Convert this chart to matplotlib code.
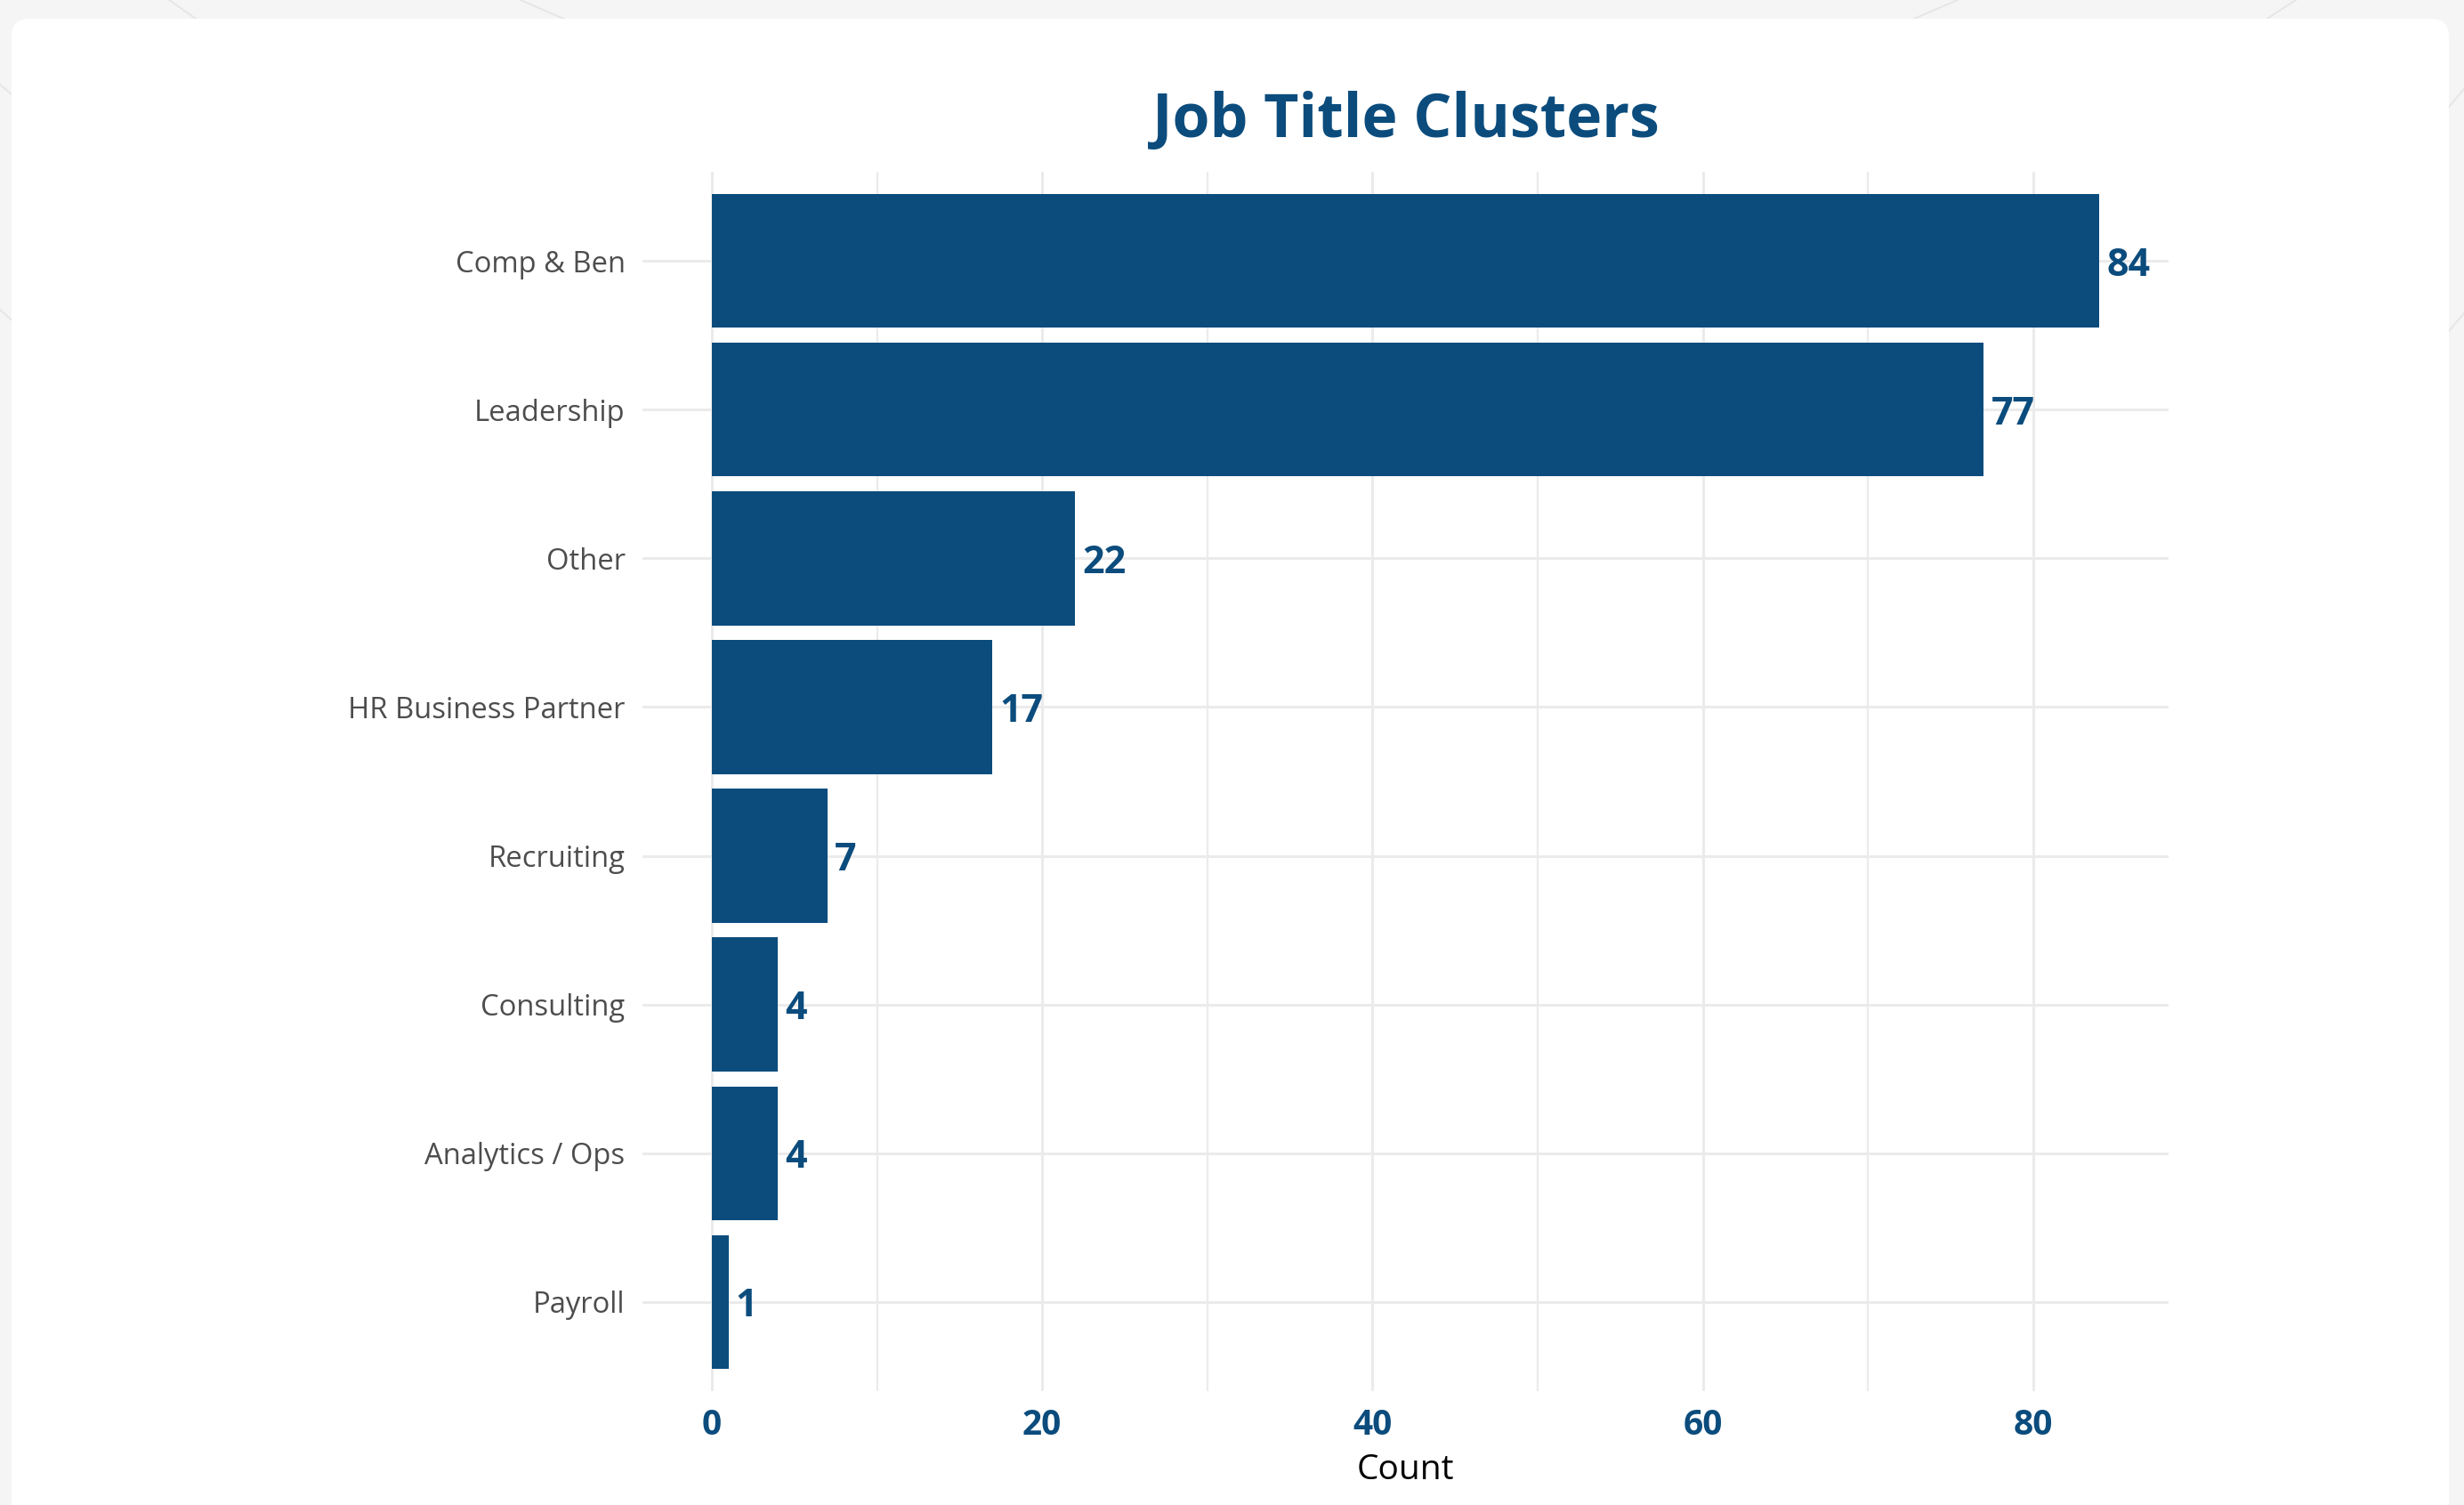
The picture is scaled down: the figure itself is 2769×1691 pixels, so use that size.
import numpy as np
import matplotlib
matplotlib.use("Agg")
import matplotlib.pyplot as plt
from matplotlib.patches import FancyBboxPatch
from matplotlib.lines import Line2D

plt.rcParams['font.family'] = ['Open Sans', 'DejaVu Sans']

# Data
clusters = ["Comp & Ben", "Leadership", "Other", "HR Business Partner",
            "Recruiting", "Consulting", "Analytics / Ops", "Payroll"]
counts = [84, 77, 22, 17, 7, 4, 4, 1]
major_ticks = [0, 20, 40, 60, 80]
minor_ticks = [10, 30, 50, 70]

BLUE = "#0B4C7D"
GRID = "#EBEBEB"
W, H, DPI = 2769, 1691, 200

fig = plt.figure(figsize=(W / DPI, H / DPI), dpi=DPI)
fig.patch.set_facecolor("#F5F5F5")

# faint pattern lines behind the card (pixel coords, y from top)
segs = [((190, 0), (230, 28)), ((585, 0), (645, 26)), ((0, 95), (20, 112)),
        ((0, 348), (20, 366)), ((2540, 26), (2580, 0)), ((2135, 28), (2200, 0)),
        ((2752, 120), (2769, 100)), ((2752, 372), (2769, 352))]
for (x0, y0), (x1, y1) in segs:
    fig.add_artist(Line2D([x0 / DPI, x1 / DPI], [(H - y0) / DPI, (H - y1) / DPI],
                          transform=fig.dpi_scale_trans, color="#E6E6E6", lw=0.7, zorder=-2))

# white card
card = FancyBboxPatch((13 / DPI, -0.3), (2752 - 13) / DPI, (H - 21) / DPI + 0.3,
                      boxstyle="round,pad=0,rounding_size=0.1",
                      transform=fig.dpi_scale_trans, facecolor="white",
                      edgecolor="none", zorder=-1)
fig.add_artist(card)

left, right, top, bottom = 722, 2437, 193, 1563
ax = fig.add_axes([left / W, 1 - bottom / H, (right - left) / W, (bottom - top) / H])
ax.set_facecolor("none")

y = np.arange(1, len(clusters) + 1)
ax.barh(y, counts, height=0.9, color=BLUE, zorder=3)

for yi, v in zip(y, counts):
    ax.annotate(str(v), (v, yi), xytext=(3, 0), textcoords="offset points",
                ha="left", va="center_baseline", fontsize=15.5, fontweight="bold",
                color=BLUE, zorder=4)

ax.set_xlim(-4.2, 88.2)
ax.set_ylim(8.6, 0.4)
ax.set_yticks(y)
ax.set_yticklabels(clusters)
ax.set_xticks(major_ticks)
ax.set_xticks(minor_ticks, minor=True)

ax.grid(axis="x", which="major", color=GRID, lw=1.1, zorder=1)
ax.grid(axis="x", which="minor", color=GRID, lw=0.8, zorder=1)
ax.grid(axis="y", which="major", color=GRID, lw=1.1, zorder=1)
for s in ax.spines.values():
    s.set_visible(False)

ax.tick_params(axis="both", which="both", length=0)
ax.tick_params(axis="x", pad=7, labelsize=14, labelcolor=BLUE)
ax.tick_params(axis="y", pad=7, labelsize=11.8, labelcolor="#4D4D4D")
for lab in ax.get_xticklabels():
    lab.set_fontweight("bold")

ax.set_xlabel("Count", fontsize=14, color="black", labelpad=4)

fig.text((left + right) / 2 / W, 1 - 136 / H, "Job Title Clusters",
         ha="center", va="center", fontsize=24.5, fontweight="bold", color=BLUE)

fig.savefig("out.png", dpi=DPI, facecolor=fig.get_facecolor())
